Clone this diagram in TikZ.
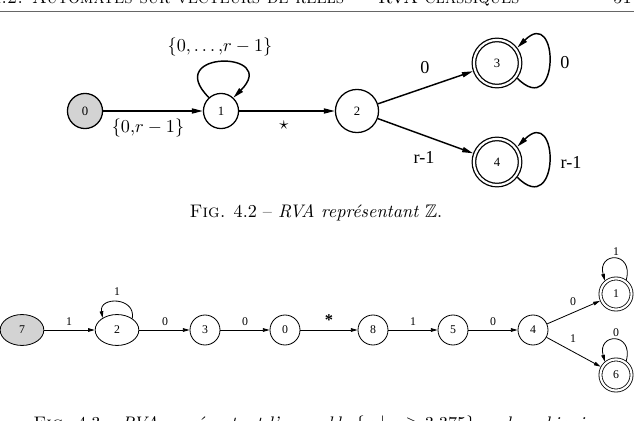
\documentclass[tikz,border=0pt]{standalone}
\usepackage{fontspec}
\usepackage{amsmath,amssymb}
\usetikzlibrary{arrows.meta,shapes.geometric}
\newfontfamily\dotfont{LiberationSerif}[Extension=.ttf, UprightFont=*-Regular, BoldFont=*-Bold]
\definecolor{nodegray}{HTML}{D3D3D3}

\begin{document}
\begin{tikzpicture}[x=0.55pt, y=0.55pt,
  st/.style={circle, draw, line width=0.7pt, inner sep=0pt, minimum size=19.3pt, font=\dotfont\fontsize{7}{8}\selectfont},
  fin/.style={st, double, double distance=1.2pt, outer sep=1.3pt, minimum size=25.4pt},
  arr/.style={line width=0.8pt, -{Triangle[length=6pt,width=2.8pt]}},
  lbl/.style={font=\dotfont\fontsize{10}{12}\selectfont},
  sst/.style={circle, draw, line width=0.45pt, inner sep=0pt, minimum size=16.5pt, font=\dotfont\fontsize{6.5}{7}\selectfont},
  sfin/.style={sst, double, double distance=1.2pt, outer sep=1.05pt, minimum size=17.1pt},
  sell/.style={sst, ellipse, minimum width=24pt, minimum height=17pt},
  sarr/.style={line width=0.45pt, -{Triangle[length=3.7pt,width=2pt]}},
  slbl/.style={font=\dotfont\fontsize{6.5}{7}\selectfont}]
  \useasboundingbox (0,0) rectangle (639,420);
  \clip (0,0) rectangle (639,420);

  % page header
  \node[anchor=base west, inner sep=0pt] (hdr) at (-9,416) {\textsc{4.2. Automates sur vecteurs de réels --- RVA classiques}};
  \node[anchor=base east, inner sep=0pt] (pnum) at (632,416) {51};
  \draw[line width=0.4pt, black!60] (0,409) -- (634,409);

  % Fig. 4.2
  \node[st, fill=nodegray] (q0) at (85,309) {0};
  \node[st] (q1) at (221,309) {1};
  \node[st, minimum size=23.7pt] (q2) at (357,309) {2};
  \node[fin] (q3) at (497,357) {3};
  \node[fin] (q4) at (497,258) {4};
  \draw[arr] (q0) -- (q1); \draw[arr] (q1) -- (q2);
  \draw[arr] (q2) -- (q3); \draw[arr] (q2) -- (q4);
  \draw[arr] (q1.132) .. controls +(135:67) and +(45:67) .. (q1.47);
  \draw[arr] (q3.-37) .. controls +(-45:60) and +(45:60) .. (q3.37);
  \draw[arr] (q4.-37) .. controls +(-45:60) and +(45:60) .. (q4.37);
  \node (l11) at (220,373) {$\{0,\ldots{,}r-1\}$};
  \node (l01) at (148,292) {$\{0{,}r-1\}$};
  \node (l12) at (284,295) {$\star$};
  \node[lbl] (l23) at (425,352) {0};
  \node[lbl] (l24) at (424,263) {r-1};
  \node[lbl] (l33) at (565,357) {0};
  \node[lbl] (l44) at (571,258) {r-1};
  \node[anchor=base] (cap2) at (316,202) {\textsc{Fig.} 4.2 -- \textit{RVA représentant} $\mathbb{Z}$.};

  % Fig. 4.3
  \node[sell, fill=nodegray] (p7) at (22,90) {7};
  \node[sell] (p2) at (117,90) {2};
  \node[sst] (p3) at (205,90) {3};
  \node[sst] (p0) at (285,90) {0};
  \node[sst] (p8) at (373,90) {8};
  \node[sst] (p5) at (453,90) {5};
  \node[sst] (p4) at (533,90) {4};
  \node[sfin] (p1) at (616,126) {1};
  \node[sfin] (p6) at (616,45) {6};
  \draw[sarr] (p7) -- (p2); \draw[sarr] (p2) -- (p3); \draw[sarr] (p3) -- (p0);
  \draw[sarr] (p0) -- (p8); \draw[sarr] (p8) -- (p5); \draw[sarr] (p5) -- (p4);
  \draw[sarr] (p4) -- (p1); \draw[sarr] (p4) -- (p6);
  \draw[sarr] (p2.37) .. controls +(80:22) and +(100:22) .. (p2.140);
  \draw[sarr] (p1.54) .. controls +(75:30) and +(105:30) .. (p1.130);
  \draw[sarr] (p6.54) .. controls +(75:30) and +(105:30) .. (p6.130);
  \node[slbl] (m22) at (117,128) {1};
  \node[slbl] (m72) at (69,98) {1};
  \node[slbl] (m23) at (165,98) {0};
  \node[slbl] (m30) at (245,98) {0};
  \node[font=\dotfont\bfseries\fontsize{9}{10}\selectfont] (m08) at (329,100) {*};
  \node[slbl] (m85) at (413,98) {1};
  \node[slbl] (m54) at (493,98) {0};
  \node[slbl] (m41) at (573,118) {0};
  \node[slbl] (m46) at (573,81) {1};
  \node[slbl] (m11) at (616,168) {1};
  \node[slbl] (m66) at (616,87) {0};
  \node[anchor=base west, inner sep=0pt] (cap3) at (33,-9) {\textsc{Fig.} 4.3 -- \textit{RVA représentant l'ensemble} $\{x \mid x \geq 3.375\}$ \textit{en base binaire}.};
\end{tikzpicture}
\end{document}
